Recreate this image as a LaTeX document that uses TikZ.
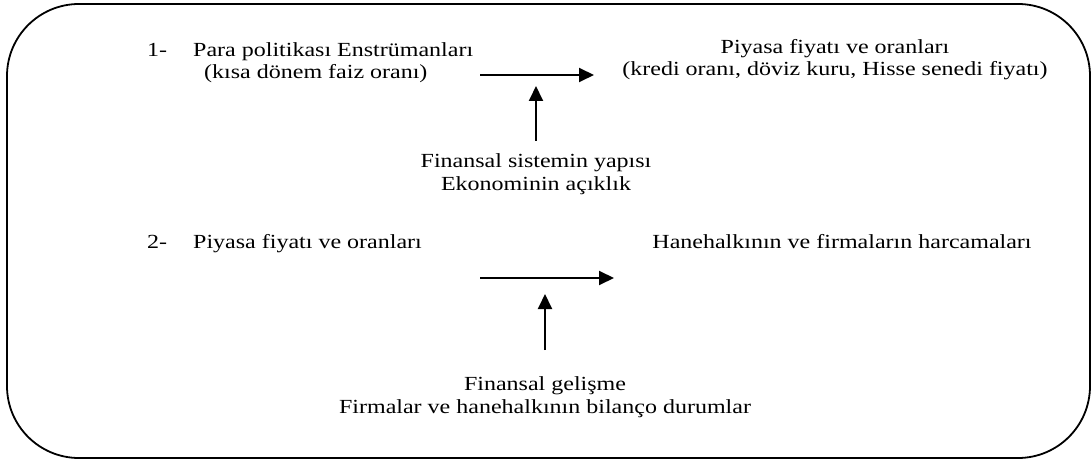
\documentclass[tikz,border=0pt]{standalone}
\usepackage{fontspec}
\setmainfont[FakeStretch=1.2]{Liberation Serif}
\usetikzlibrary{arrows.meta}
\begin{document}
\begin{tikzpicture}[x=1pt,y=-1pt,
  txt/.style={inner sep=0pt,anchor=base,font=\fontsize{20}{22}\selectfont},
  ltxt/.style={txt,anchor=base west},
  arr/.style={line width=1.9pt,-{Triangle[length=15pt,width=14pt]}},
  frame/.style={line width=1.8pt,rounded corners=72pt}]
\useasboundingbox (0,0) rectangle (1092,462);
\draw[frame] (7,4) rectangle (1090,458);

% first stage
\node[ltxt] (n1) at (147,57) {1-};
\node[ltxt] (p1a) at (193,57) {Para politikası Enstrümanları};
\node[ltxt] (p1b) at (204,79) {(kısa dönem faiz oranı)};
\node[txt] (m1a) at (835,54) {Piyasa fiyatı ve oranları};
\node[txt] (m1b) at (835,76) {(kredi oranı, döviz kuru, Hisse senedi fiyatı)};
\node[txt] (f1a) at (536,168) {Finansal sistemin yapısı};
\node[txt] (f1b) at (536,191) {Ekonominin açıklık};
\coordinate (a1s) at (480,75);
\coordinate (a1e) at (594,75);
\coordinate (v1s) at (536,141);
\coordinate (v1e) at (536,86);
\draw[arr] (a1s) -- (a1e);
\draw[arr] (v1s) -- (v1e);

% second stage
\node[ltxt] (n2) at (147,249) {2-};
\node[ltxt] (p2) at (193,249) {Piyasa fiyatı ve oranları};
\node[txt] (h2) at (842,249) {Hanehalkının ve firmaların harcamaları};
\node[txt] (f2a) at (545,390) {Finansal gelişme};
\node[txt] (f2b) at (545,413) {Firmalar ve hanehalkının bilanço durumlar};
\coordinate (a2s) at (480,278);
\coordinate (a2e) at (614,278);
\coordinate (v2s) at (545,350);
\coordinate (v2e) at (545,294);
\draw[arr] (a2s) -- (a2e);
\draw[arr] (v2s) -- (v2e);
\end{tikzpicture}
\end{document}
